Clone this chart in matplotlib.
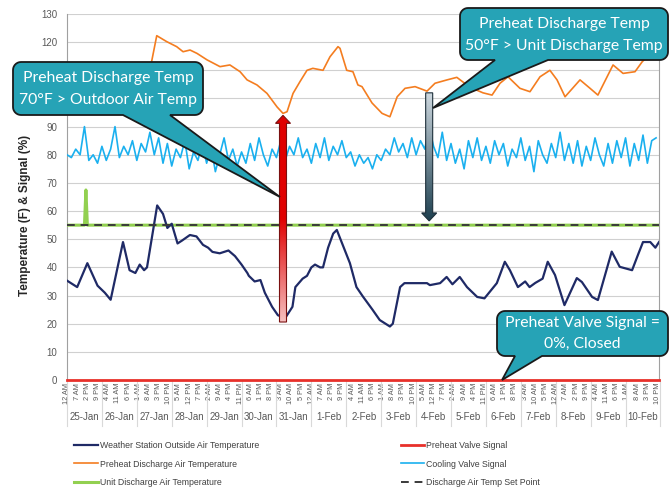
import numpy as np
import matplotlib
matplotlib.use('Agg')
import matplotlib.pyplot as plt
from matplotlib.path import Path
from matplotlib.patches import PathPatch, Polygon
from matplotlib.colors import LinearSegmentedColormap
from matplotlib.transforms import blended_transform_factory

plt.rcParams['font.family'] = ['Liberation Sans', 'DejaVu Sans']

# hours counted from 25-Jan 12 AM
days = ['25-Jan', '26-Jan', '27-Jan', '28-Jan', '29-Jan', '30-Jan', '31-Jan', '1-Feb', '2-Feb',
        '3-Feb', '4-Feb', '5-Feb', '6-Feb', '7-Feb', '8-Feb', '9-Feb', '10-Feb']

# weather station outside air temperature
oat_h = [0, 7, 14, 21, 26, 30, 38.5, 43, 47, 50, 53, 55, 62, 66, 69, 72, 74, 76, 79, 84.5, 89,
         93.5, 97, 100, 105, 111, 115.5, 120, 124, 125, 129, 133, 136, 141, 145, 150, 155, 157,
         162, 165, 168, 170.5, 174, 176, 179.5, 183, 185.5, 194.5, 199, 203.5, 210, 215, 222,
         224, 229, 232, 247.5, 249.5, 256.5, 261, 265, 270, 275, 282, 287, 295.5, 301, 304.5,
         310, 315, 318, 322, 327, 330.5, 335.5, 342, 350.5, 354, 361, 365, 374.5, 380, 388.5,
         392.5, 396, 401, 404.5, 407]
oat_v = [35.3, 33, 41.5, 33.5, 31, 28.5, 49, 39, 38, 41, 39, 40, 62, 59, 54, 55.5, 52, 48.5,
         49.5, 51.5, 51, 48, 47, 45.5, 45, 46, 44, 41, 38, 37, 35, 35.5, 31, 26, 23, 22, 26, 33,
         36, 37, 40, 41, 40, 40, 47, 52, 53.3, 41.5, 33, 29.6, 25, 21.3, 19, 20, 33, 34.4, 34.4,
         33.7, 34.4, 36.6, 34, 36.6, 33, 29.5, 29, 34.4, 42, 39, 33, 35, 33, 34.5, 36, 42, 37.3,
         26.6, 36.2, 34.8, 29.5, 28.4, 45.6, 40.2, 39, 44.4, 49, 49, 47, 49]

# preheat discharge air temperature
pdt_h = [48, 56, 58.4, 61.7, 68.5, 75.4, 79.8, 84.6, 89.4, 96.3, 105.2, 112, 119, 123.8, 130.6,
         137.5, 144.4, 148.5, 151.3, 155.4, 160.2, 165, 169, 176, 180.8, 186.3, 187.7, 192.3,
         196.6, 200, 202.8, 209.7, 216.6, 222, 227, 232.4, 239.3, 247.5, 253, 261.3, 268, 277,
         286, 292.2, 297.7, 303.2, 311.4, 318.3, 325.2, 332, 336.9, 342.4, 352.7, 359.6, 365,
         375.4, 382.3, 390.5, 395.4, 401, 407]
pdt_v = [104, 108, 113.7, 122.3, 120.2, 118.4, 116.6, 117.2, 116, 113.7, 111.3, 111.9, 109.5,
         106.6, 104.8, 101.8, 97, 94.7, 95.3, 101.8, 106, 110, 110.7, 110, 114.8, 118.4, 117.8,
         110, 109.5, 104.8, 104.2, 98.4, 94.7, 93.5, 100.6, 103.6, 104.2, 102.6, 105.4, 106.6,
         107.5, 104, 102, 101.2, 105.4, 107.7, 103.6, 102.4, 107.7, 110, 106.6, 100.6, 106.6,
         103.6, 101.2, 111.9, 108.9, 109.5, 113, 116, 118]

# cooling valve signal, every 3 hours
cvs_h = list(range(0, 408, 3))
cvs_v = [80, 79, 82, 80, 90, 78, 80, 77,
         83, 78, 82, 90, 79, 83, 80, 85,
         78, 84, 81, 88, 80, 86, 77, 84,
         76, 82, 79, 85, 75, 81, 78, 84,
         77, 83, 74, 80, 86, 78, 82, 76,
         81, 77, 84, 78, 86, 80, 76, 82,
         79, 85, 78, 83, 80, 86, 79, 82,
         77, 84, 79, 86, 78, 83, 80, 85,
         79, 81, 76, 80, 77, 79, 75, 80,
         78, 82, 80, 86, 81, 84, 79, 86,
         80, 85, 82, 90, 83, 79, 88, 78,
         84, 77, 82, 75, 85, 79, 86, 78,
         83, 77, 85, 80, 84, 76, 82, 79,
         86, 78, 83, 74, 85, 80, 77, 84,
         79, 88, 78, 84, 77, 85, 76, 83,
         78, 86, 80, 76, 84, 77, 85, 79,
         86, 76, 84, 78, 87, 77, 85, 86]

# unit discharge air temperature
udt_h = [0, 12, 13, 14, 407]
udt_v = [55, 55, 67.5, 55, 55]

setpoint = 55
preheat_valve = 0

W, H = 670, 490
fig = plt.figure(figsize=(W / 100, H / 100), dpi=100)
ax = fig.add_axes([67 / W, 1 - 380 / H, 592 / W, 366 / H])

ax.plot(udt_h, udt_v, color='#92d050', lw=2.2, label='Unit Discharge Air Temperature', zorder=3)
ax.plot([0, 407], [setpoint, setpoint], color='#3a3a3a', lw=1.4, ls=(0, (4, 3)),
        label='Discharge Air Temp Set Point', zorder=4)
ax.plot(cvs_h, cvs_v, color='#1ab0ef', lw=1.2, label='Cooling Valve Signal', zorder=3)
ax.plot(pdt_h, pdt_v, color='#f47d20', lw=1.2, label='Preheat Discharge Air Temperature', zorder=3)
ax.plot(oat_h, oat_v, color='#1f2a66', lw=1.6, label='Weather Station Outside Air Temperature', zorder=3)
ax.plot([0, 407], [preheat_valve, preheat_valve], color='#e8302a', lw=2, label='Preheat Valve Signal',
        zorder=5, clip_on=False)

ax.set_xlim(0, 407)
ax.set_ylim(0, 130)
yt = list(range(0, 131, 10))
ax.set_yticks(yt)
# 100 and 110 sit behind the first callout
ax.set_yticklabels(['' if v in (100, 110) else str(v) for v in yt])
ax.grid(axis='y', color='#d0d0d0', lw=0.8)
ax.set_axisbelow(True)
for s in ['top', 'bottom']:
    ax.spines[s].set_visible(False)
ax.spines['left'].set_color('#a0a0a0')
ax.spines['right'].set_color('#a0a0a0')
ax.tick_params(axis='y', length=0, pad=7, labelsize=7, labelcolor='#595959')

# hour labels every 7 h, day labels below
hticks = list(range(0, 407, 7))
hlabels = []
for t in hticks:
    h = t % 24
    hlabels.append(f"{h % 12 or 12} {'AM' if h < 12 else 'PM'}")
ax.set_xticks(hticks)
ax.set_xticklabels(hlabels, rotation=90, fontsize=5.3, color='#595959')
ax.tick_params(axis='x', length=0, pad=2)

tr = blended_transform_factory(ax.transData, ax.transAxes)
for d in range(len(days) + 1):
    ax.plot([24 * d, 24 * d], [0, -0.125], color='#d9d9d9', lw=0.8, transform=tr, clip_on=False)
for d, name in enumerate(days):
    ax.text(24 * d + 12, -0.1, name, transform=tr, ha='center', va='center', fontsize=7, color='#595959')

fig.text(25 / W, 1 - 215 / H, 'Temperature (F) & Signal (%)', rotation=90, ha='center', va='center',
         fontsize=8.5, fontweight='bold', color='#262626')

handles, labels = ax.get_legend_handles_labels()
order = [4, 3, 0, 5, 2, 1]
fig.legend([handles[i] for i in order], [labels[i] for i in order], ncol=2, frameon=False,
           loc='upper left', bbox_to_anchor=(66 / W, 1 - 433 / H), handlelength=2.7,
           handletextpad=0.25, columnspacing=16.2, labelspacing=1.1, labelcolor='#404040',
           fontsize=6.3)

# gradient arrows
pxh = 592 / 407
pxv = 366 / 130


def grad_arrow(x, y_tail, y_tip, c_tail, c_tip, ec):
    ds = 3.5 / pxh
    dh = 7.5 / pxh
    hl = 8 / pxv * np.sign(y_tip - y_tail)
    pts = [(x - ds, y_tail), (x + ds, y_tail), (x + ds, y_tip - hl), (x + dh, y_tip - hl),
           (x, y_tip), (x - dh, y_tip - hl), (x - ds, y_tip - hl)]
    poly = Polygon(pts, closed=True, fc='none', ec=ec, lw=0.8, zorder=7)
    ax.add_patch(poly)
    lo, hi = min(y_tail, y_tip), max(y_tail, y_tip)
    if y_tip > y_tail:
        cmap = LinearSegmentedColormap.from_list('g', [c_tail, c_tip, c_tip])
    else:
        cmap = LinearSegmentedColormap.from_list('g', [c_tip, c_tail])
    grad = np.linspace(0, 1, 256).reshape(-1, 1)
    im = ax.imshow(grad, cmap=cmap, extent=(x - dh, x + dh, lo, hi), origin='lower',
                   aspect='auto', zorder=6)
    im.set_clip_path(poly)


grad_arrow(148.5, 20.6, 94, '#f6c0c0', '#e00000', '#7a1010')
grad_arrow(249, 102, 56.5, '#cfd9e0', '#1d3f4f', '#1d2f3a')
ax.set_xlim(0, 407)
ax.set_ylim(0, 130)


# callouts in figure pixels
def callout(box, base, tip, lines, cy, fs=11.3, r=8):
    x0, y0, x1, y1 = box

    def arc(cx, cyy, a0, a1):
        t = np.radians(np.linspace(a0, a1, 8))
        return [(cx + r * np.cos(a), cyy + r * np.sin(a)) for a in t]

    v = []
    v += arc(x0 + r, y0 + r, 180, 270)
    v += arc(x1 - r, y0 + r, 270, 360)
    v += arc(x1 - r, y1 - r, 0, 90)
    v += [(base[1], y1), tip, (base[0], y1)]
    v += arc(x0 + r, y1 - r, 90, 180)
    v.append(v[0])
    v = [(px / W, 1 - py / H) for px, py in v]
    codes = [Path.MOVETO] + [Path.LINETO] * (len(v) - 2) + [Path.CLOSEPOLY]
    patch = PathPatch(Path(v, codes), transform=fig.transFigure, fc='#26a3b6', ec='#1a1a1a',
                      lw=1.3, zorder=10)
    fig.add_artist(patch)
    for txt, yy in zip(lines, cy):
        fig.text((x0 + x1) / 2 / W, 1 - yy / H, txt, ha='center', va='center', color='white',
                 fontsize=fs, zorder=11, family=['Lato', 'DejaVu Sans'])


callout((13, 62, 203, 115), (123, 170), (280, 197),
        ['Preheat Discharge Temp', '70°F > Outdoor Air Temp'], [78, 100])
callout((460, 8, 668, 60), (495, 548), (433, 108),
        ['Preheat Discharge Temp', '50°F > Unit Discharge Temp'], [24, 46])
callout((497, 311, 668, 356), (515, 542), (502, 380),
        ['Preheat Valve Signal =', '0%, Closed'], [323, 344])

fig.savefig('out.png', dpi=100)
